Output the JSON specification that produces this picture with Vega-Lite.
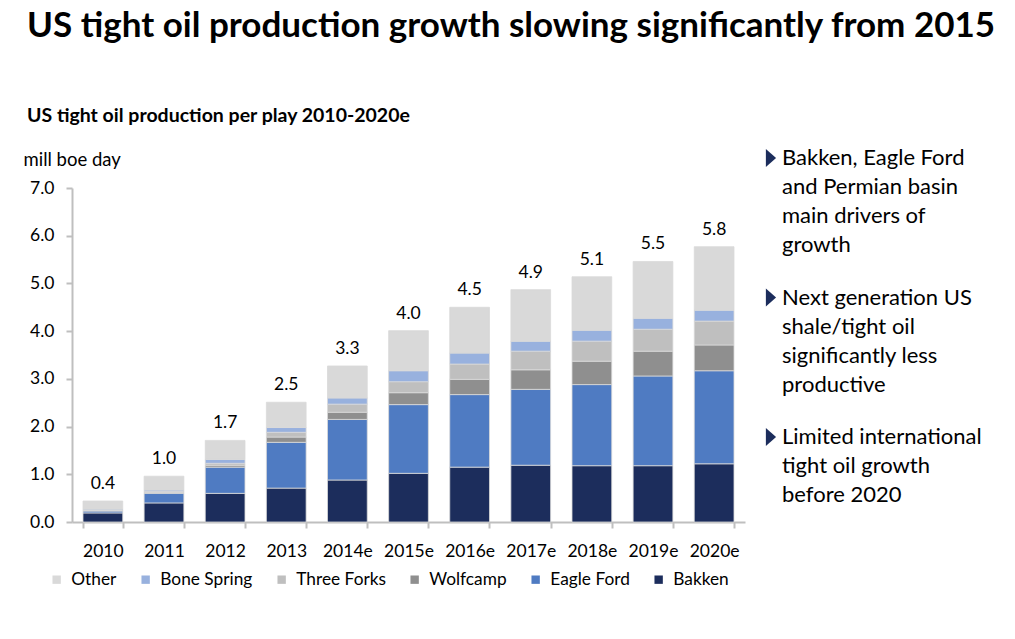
{
  "$schema": "https://vega.github.io/schema/vega-lite/v6.json",
  "width": 673,
  "height": 334,
  "autosize": {"type": "none"},
  "padding": {"left": 72, "top": 188, "right": 270, "bottom": 117},
  "background": "white",
  "config": {
    "view": {"stroke": null},
    "font": "Lato",
    "text": {"font": "Lato"}
  },
  "title": {
    "text": "US tight oil production growth slowing significantly from 2015",
    "subtitle": "US tight oil production per play 2010-2020e",
    "anchor": "start",
    "frame": "group",
    "font": "Lato",
    "fontSize": 35,
    "fontWeight": "bold",
    "color": "black",
    "subtitleFont": "Lato",
    "subtitleFontSize": 19.5,
    "subtitleFontWeight": "bold",
    "subtitleColor": "black",
    "subtitlePadding": 63,
    "offset": 22,
    "dx": -45
  },
  "datasets": {
    "plays": [
      {"year": "2010", "play": "Bakken", "k": 1, "v": 0.19},
      {"year": "2010", "play": "Eagle Ford", "k": 2, "v": 0.04},
      {"year": "2010", "play": "Wolfcamp", "k": 3, "v": 0.01},
      {"year": "2010", "play": "Three Forks", "k": 4, "v": 0.01},
      {"year": "2010", "play": "Bone Spring", "k": 5, "v": 0.02},
      {"year": "2010", "play": "Other", "k": 6, "v": 0.17},
      {"year": "2011", "play": "Bakken", "k": 1, "v": 0.40},
      {"year": "2011", "play": "Eagle Ford", "k": 2, "v": 0.20},
      {"year": "2011", "play": "Wolfcamp", "k": 3, "v": 0.02},
      {"year": "2011", "play": "Three Forks", "k": 4, "v": 0.02},
      {"year": "2011", "play": "Bone Spring", "k": 5, "v": 0.03},
      {"year": "2011", "play": "Other", "k": 6, "v": 0.29},
      {"year": "2012", "play": "Bakken", "k": 1, "v": 0.60},
      {"year": "2012", "play": "Eagle Ford", "k": 2, "v": 0.55},
      {"year": "2012", "play": "Wolfcamp", "k": 3, "v": 0.04},
      {"year": "2012", "play": "Three Forks", "k": 4, "v": 0.04},
      {"year": "2012", "play": "Bone Spring", "k": 5, "v": 0.08},
      {"year": "2012", "play": "Other", "k": 6, "v": 0.40},
      {"year": "2013", "play": "Bakken", "k": 1, "v": 0.71},
      {"year": "2013", "play": "Eagle Ford", "k": 2, "v": 0.96},
      {"year": "2013", "play": "Wolfcamp", "k": 3, "v": 0.11},
      {"year": "2013", "play": "Three Forks", "k": 4, "v": 0.10},
      {"year": "2013", "play": "Bone Spring", "k": 5, "v": 0.10},
      {"year": "2013", "play": "Other", "k": 6, "v": 0.53},
      {"year": "2014e", "play": "Bakken", "k": 1, "v": 0.88},
      {"year": "2014e", "play": "Eagle Ford", "k": 2, "v": 1.27},
      {"year": "2014e", "play": "Wolfcamp", "k": 3, "v": 0.15},
      {"year": "2014e", "play": "Three Forks", "k": 4, "v": 0.17},
      {"year": "2014e", "play": "Bone Spring", "k": 5, "v": 0.13},
      {"year": "2014e", "play": "Other", "k": 6, "v": 0.67},
      {"year": "2015e", "play": "Bakken", "k": 1, "v": 1.02},
      {"year": "2015e", "play": "Eagle Ford", "k": 2, "v": 1.44},
      {"year": "2015e", "play": "Wolfcamp", "k": 3, "v": 0.25},
      {"year": "2015e", "play": "Three Forks", "k": 4, "v": 0.23},
      {"year": "2015e", "play": "Bone Spring", "k": 5, "v": 0.23},
      {"year": "2015e", "play": "Other", "k": 6, "v": 0.84},
      {"year": "2016e", "play": "Bakken", "k": 1, "v": 1.15},
      {"year": "2016e", "play": "Eagle Ford", "k": 2, "v": 1.52},
      {"year": "2016e", "play": "Wolfcamp", "k": 3, "v": 0.32},
      {"year": "2016e", "play": "Three Forks", "k": 4, "v": 0.32},
      {"year": "2016e", "play": "Bone Spring", "k": 5, "v": 0.23},
      {"year": "2016e", "play": "Other", "k": 6, "v": 0.96},
      {"year": "2017e", "play": "Bakken", "k": 1, "v": 1.19},
      {"year": "2017e", "play": "Eagle Ford", "k": 2, "v": 1.59},
      {"year": "2017e", "play": "Wolfcamp", "k": 3, "v": 0.41},
      {"year": "2017e", "play": "Three Forks", "k": 4, "v": 0.39},
      {"year": "2017e", "play": "Bone Spring", "k": 5, "v": 0.21},
      {"year": "2017e", "play": "Other", "k": 6, "v": 1.08},
      {"year": "2018e", "play": "Bakken", "k": 1, "v": 1.18},
      {"year": "2018e", "play": "Eagle Ford", "k": 2, "v": 1.70},
      {"year": "2018e", "play": "Wolfcamp", "k": 3, "v": 0.49},
      {"year": "2018e", "play": "Three Forks", "k": 4, "v": 0.42},
      {"year": "2018e", "play": "Bone Spring", "k": 5, "v": 0.23},
      {"year": "2018e", "play": "Other", "k": 6, "v": 1.12},
      {"year": "2019e", "play": "Bakken", "k": 1, "v": 1.18},
      {"year": "2019e", "play": "Eagle Ford", "k": 2, "v": 1.88},
      {"year": "2019e", "play": "Wolfcamp", "k": 3, "v": 0.52},
      {"year": "2019e", "play": "Three Forks", "k": 4, "v": 0.46},
      {"year": "2019e", "play": "Bone Spring", "k": 5, "v": 0.23},
      {"year": "2019e", "play": "Other", "k": 6, "v": 1.19},
      {"year": "2020e", "play": "Bakken", "k": 1, "v": 1.22},
      {"year": "2020e", "play": "Eagle Ford", "k": 2, "v": 1.95},
      {"year": "2020e", "play": "Wolfcamp", "k": 3, "v": 0.54},
      {"year": "2020e", "play": "Three Forks", "k": 4, "v": 0.50},
      {"year": "2020e", "play": "Bone Spring", "k": 5, "v": 0.23},
      {"year": "2020e", "play": "Other", "k": 6, "v": 1.33}
    ],
    "notes": [
      {"n": 1, "t": "Bakken, Eagle Ford\nand Permian basin\nmain drivers of\ngrowth"},
      {"n": 2, "t": "Next generation US\nshale/tight oil\nsignificantly less\nproductive"},
      {"n": 3, "t": "Limited international\ntight oil growth\nbefore 2020"}
    ]
  },
  "layer": [
    {
      "data": {"name": "plays"},
      "layer": [
        {
          "mark": {"type": "bar", "stroke": "#d9d9d9", "strokeWidth": 0.8},
          "encoding": {
            "x": {
              "field": "year", "type": "ordinal", "sort": null,
              "scale": {"paddingInner": 0.35, "paddingOuter": 0.18},
              "axis": {
                "title": null, "labelAngle": 0, "labelFont": "Lato", "labelFontSize": 17.5,
                "labelColor": "black", "domainColor": "#bfbfbf", "domainWidth": 2,
                "tickColor": "#bfbfbf", "tickWidth": 2, "tickSize": 6, "tickBand": "extent",
                "labelPadding": 14
              }
            },
            "y": {
              "field": "v", "type": "quantitative", "aggregate": "sum",
              "scale": {"domain": [0, 7], "nice": false},
              "axis": {
                "title": "mill boe day", "titleAngle": 0, "titleAlign": "left", "titleBaseline": "middle",
                "titleX": -49, "titleY": -29, "titleFont": "Lato", "titleFontSize": 18.5, "titleFontWeight": "normal",
                "titleColor": "black",
                "values": [0, 1, 2, 3, 4, 5, 6, 7], "format": ".1f", "grid": false,
                "labelFont": "Lato", "labelFontSize": 17.5, "labelColor": "black", "labelPadding": 12,
                "domainColor": "#bfbfbf", "domainWidth": 2, "tickColor": "#bfbfbf", "tickWidth": 2, "tickSize": 6
              }
            },
            "color": {
              "field": "play", "type": "nominal",
              "scale": {
                "domain": ["Other", "Bone Spring", "Three Forks", "Wolfcamp", "Eagle Ford", "Bakken"],
                "range": ["#d9d9d9", "#98b1de", "#bfbfbf", "#8f8f8f", "#4f7bc2", "#1c2d5c"]
              },
              "legend": {
                "orient": "none", "legendX": -24, "legendY": 383, "direction": "horizontal",
                "title": null, "symbolType": "square", "symbolSize": 70, "symbolStrokeWidth": 0,
                "labelFont": "Lato", "labelFontSize": 17.3, "labelColor": "black",
                "labelOffset": 6, "columnPadding": 20
              }
            },
            "order": {"field": "k", "type": "quantitative", "sort": "ascending"}
          }
        },
        {
          "mark": {"type": "text", "baseline": "alphabetic", "dy": -12, "font": "Lato", "fontSize": 17.5, "color": "black"},
          "encoding": {
            "x": {"field": "year", "type": "ordinal", "sort": null},
            "y": {"field": "v", "type": "quantitative", "aggregate": "sum"},
            "text": {"field": "v", "type": "quantitative", "aggregate": "sum", "format": ".1f"}
          }
        }
      ]
    },
    {
      "mark": {"type": "rule", "color": "#999999", "strokeWidth": 4},
      "encoding": {
        "x": {"datum": -0.074, "type": "quantitative", "scale": {"domain": [0, 1], "nice": false}, "axis": null},
        "x2": {"datum": 1.007},
        "y": {"datum": 8.14, "type": "quantitative", "scale": {"domain": [0, 7], "nice": false}, "axis": null}
      }
    },
    {
      "data": {"name": "notes"},
      "mark": {"type": "text", "align": "left", "baseline": "middle", "lineBreak": "\n", "lineHeight": 29, "font": "Lato", "fontSize": 22, "color": "black"},
      "encoding": {
        "x": {"datum": 1.055, "type": "quantitative", "scale": {"domain": [0, 1], "nice": false}, "axis": null},
        "y": {"field": "n", "type": "ordinal", "scale": {"type": "point", "padding": 0, "range": [-30, 249]}, "axis": null},
        "text": {"field": "t", "type": "nominal"}
      }
    },
    {
      "data": {"name": "notes"},
      "mark": {"type": "point", "shape": "M-0.57,-1L0.57,0L-0.57,1Z", "filled": true, "size": 320, "color": "#1c2d5c", "opacity": 1},
      "encoding": {
        "x": {"datum": 1.0386, "type": "quantitative", "scale": {"domain": [0, 1], "nice": false}, "axis": null},
        "y": {"field": "n", "type": "ordinal", "scale": {"type": "point", "padding": 0, "range": [-30, 249]}, "axis": null}
      }
    }
  ],
  "resolve": {"scale": {"x": "independent", "y": "independent"}, "axis": {"x": "independent", "y": "independent"}}
}
